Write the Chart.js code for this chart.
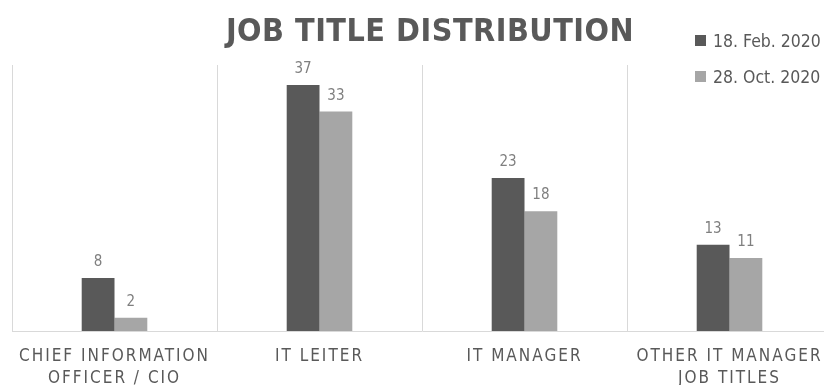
<!DOCTYPE html>
<html>
<head>
<meta charset="utf-8">
<script src="https://cdn.jsdelivr.net/npm/chart.js@4.4.0/dist/chart.umd.min.js"></script>
<style>
  html, body { margin: 0; padding: 0; background: #fff; overflow: hidden; }
  #wrap { width: 850px; height: 405px; position: relative; }
  #jobChart { width: 850px; height: 405px; display: block; }
</style>
</head>
<body>
<div id="wrap"><canvas id="jobChart" width="850" height="405"></canvas></div>
<script>
// data
const chartTitle = 'JOB TITLE DISTRIBUTION';
const categories = [
  ['CHIEF INFORMATION', 'OFFICER / CIO'],
  'IT LEITER',
  'IT MANAGER',
  ['OTHER IT MANAGER', 'JOB TITLES']
];
const seriesNames = ['18. Feb. 2020', '28. Oct. 2020'];
const feb2020 = [8, 37, 23, 13];
const oct2020 = [2, 33, 18, 11];

const FONT = '"DejaVu Sans Condensed", "Liberation Sans Narrow", sans-serif';
const darkGrey = '#595959';
const lightGrey = '#a6a6a6';

// spaced-out axis labels like the original
const spacingPlugin = {
  id: 'spacing',
  beforeDraw(chart) {
    chart.ctx.letterSpacing = '2px';
  }
};

// title, legend and value labels
const extrasPlugin = {
  id: 'extras',
  afterDatasetsDraw(chart) {
    const ctx = chart.ctx;
    ctx.save();
    ctx.letterSpacing = '0px';

    // value labels over the bars
    ctx.font = '15px ' + FONT;
    ctx.fillStyle = '#7f7f7f';
    ctx.textAlign = 'center';
    ctx.textBaseline = 'alphabetic';
    chart.data.datasets.forEach((ds, i) => {
      const meta = chart.getDatasetMeta(i);
      meta.data.forEach((bar, j) => {
        ctx.fillText(ds.data[j], bar.x, bar.y - 12);
      });
    });

    // title
    ctx.font = 'bold 32px ' + FONT;
    ctx.fillStyle = darkGrey;
    ctx.letterSpacing = '0.5px';
    ctx.fillText(chartTitle, 430, 41);
    ctx.letterSpacing = '0px';

    // legend
    ctx.font = '17.5px ' + FONT;
    ctx.textAlign = 'left';
    chart.data.datasets.forEach((ds, i) => {
      const y = 41 + i * 36;
      ctx.fillStyle = ds.backgroundColor;
      ctx.fillRect(695, y - 6, 11, 11);
      ctx.fillStyle = darkGrey;
      ctx.fillText(ds.label, 713, y + 6);
    });

    ctx.restore();
  }
};

new Chart(document.getElementById('jobChart'), {
  type: 'bar',
  data: {
    labels: categories,
    datasets: [
      { label: seriesNames[0], data: feb2020, backgroundColor: darkGrey },
      { label: seriesNames[1], data: oct2020, backgroundColor: lightGrey }
    ]
  },
  options: {
    responsive: false,
    maintainAspectRatio: false,
    animation: false,
    layout: { padding: { left: 12, right: 18, top: 65, bottom: 1 } },
    datasets: { bar: { categoryPercentage: 0.32, barPercentage: 1 } },
    plugins: {
      legend: { display: false },
      title: { display: false },
      tooltip: { enabled: false }
    },
    scales: {
      x: {
        grid: { color: '#d9d9d9', drawTicks: false, offset: true },
        border: { color: '#d9d9d9' },
        ticks: {
          color: darkGrey,
          padding: 14,
          maxRotation: 0,
          autoSkip: false,
          font: { family: FONT, size: 17, lineHeight: 1.32 }
        }
      },
      y: { display: false, min: 0, max: 40 }
    }
  },
  plugins: [spacingPlugin, extrasPlugin]
});
</script>
</body>
</html>
